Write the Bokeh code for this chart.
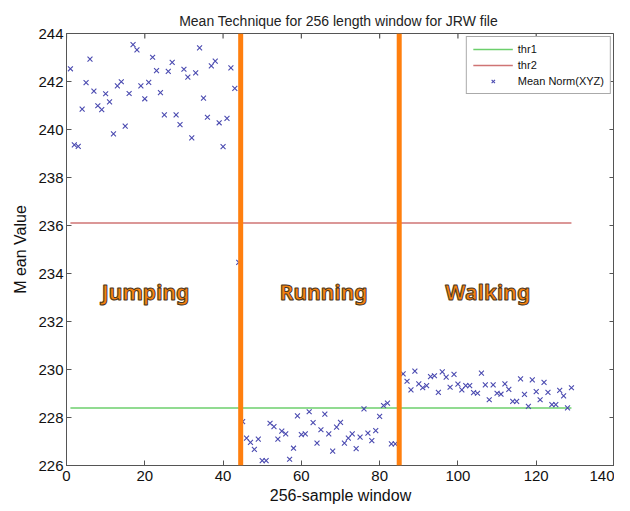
import math
from bokeh.plotting import figure
from bokeh.models import Span, Legend, LegendItem, FixedTicker, Range1d
from bokeh.core.properties import value
from bokeh.embed import file_html
from bokeh.resources import INLINE

# ---- data ----
jump_x = list(range(1, 45))
jump_y = [242.53, 239.36, 239.30, 240.85, 241.95, 242.93, 241.60, 240.99, 240.83, 241.49,
          241.15, 239.82, 241.82, 241.99, 240.14, 241.50, 243.54, 243.32, 241.82, 241.28,
          241.96, 243.01, 242.45, 241.54, 240.61, 242.42, 242.80, 240.61, 240.20, 242.51,
          242.18, 239.65, 242.36, 243.40, 241.31, 240.51, 242.65, 242.85, 240.28, 239.29,
          240.46, 242.57, 241.71, 234.46]
run_x = list(range(45, 85))
run_y = [227.83, 227.14, 226.96, 226.67, 227.10, 226.20, 226.20, 227.76, 227.62, 227.10,
         227.43, 227.32, 226.26, 226.72, 228.07, 227.29, 227.32, 228.24, 227.79, 226.93,
         227.49, 228.14, 227.32, 226.60, 227.60, 227.80, 226.93, 227.14, 227.32, 226.70,
         227.18, 228.36, 227.35, 227.04, 227.45, 228.05, 228.50, 228.60, 226.90, 226.90]
walk_x = list(range(86, 130))
walk_y = [229.82, 229.51, 229.15, 229.93, 229.40, 229.24, 229.33, 229.70, 229.74, 229.05,
          229.90, 229.68, 229.26, 229.80, 229.39, 229.15, 229.33, 229.33, 229.04, 229.01,
          229.85, 229.36, 228.74, 229.36, 229.01, 228.97, 229.40, 229.17, 228.67, 228.67,
          229.61, 228.96, 228.46, 229.57, 229.08, 228.74, 229.46, 229.05, 228.54, 228.54,
          229.13, 228.90, 228.40, 229.24]
thr1 = 228.4
thr2 = 236.1
thr_x = [1, 129]
boundaries = [44.5, 85.0]
activity_labels = ["Jumping", "Running", "Walking"]
activity_x = [20.2, 65.7, 107.6]
activity_y = [233.25, 233.25, 233.25]
x_range = (0, 140)
y_range = (226, 244)
x_ticks = [0, 20, 40, 60, 80, 100, 120, 140]
y_ticks = [226, 228, 230, 232, 234, 236, 238, 240, 242, 244]

all_x = jump_x + run_x + walk_x
all_y = jump_y + run_y + walk_y

FONT = "Liberation Sans"
AX = "#555555"

p = figure(frame_width=548, frame_height=432,
           min_border_left=66, min_border_right=0, min_border_top=33, min_border_bottom=40,
           x_range=Range1d(*x_range), y_range=Range1d(*y_range),
           output_backend="svg", toolbar_location=None,
           title="Mean Technique for 256  length window for JRW file")
p.title.align = "center"
p.title.text_font = FONT
p.title.text_font_size = "14px"
p.title.text_font_style = "normal"
p.title.text_color = "#222222"

p.grid.visible = False
p.outline_line_color = AX
p.outline_line_width = 1

for ax in (p.xaxis[0], p.yaxis[0]):
    ax.major_label_text_font = FONT
    ax.major_label_text_font_size = "15px"
    ax.major_label_text_color = "#111111"
    ax.axis_label_text_font = FONT
    ax.axis_label_text_font_size = "16px"
    ax.axis_label_text_font_style = "normal"
    ax.axis_label_text_color = "#111111"
    ax.axis_line_color = AX
    ax.major_tick_line_color = AX
    ax.major_tick_in = 5
    ax.major_tick_out = 0
    ax.minor_tick_line_color = None
p.xaxis[0].ticker = FixedTicker(ticks=x_ticks)
p.yaxis[0].ticker = FixedTicker(ticks=y_ticks)
p.xaxis[0].axis_label = "256-sample window"
p.yaxis[0].axis_label = "M ean Value"
p.xaxis[0].axis_label_standoff = 3
p.yaxis[0].axis_label_standoff = 6
p.xaxis[0].major_label_standoff = 5
p.yaxis[0].major_label_standoff = 3

# mirrored tick marks on top and right edges (half of each dash is clipped by the frame)
p.scatter(x_ticks, [y_range[1]] * len(x_ticks), marker="dash", angle=math.pi / 2,
          size=10, line_color=AX, line_width=1.2)
p.scatter([x_range[1]] * len(y_ticks), y_ticks, marker="dash",
          size=10, line_color=AX, line_width=1.2)

# threshold lines
l1 = p.line(thr_x, [thr1, thr1], line_color="#6ccf6c", line_width=1.5)
l2 = p.line(thr_x, [thr2, thr2], line_color="#cf7474", line_width=1.5)

# points
sc = p.scatter(all_x, all_y, marker="x", size=7, line_color="#4a4ab0", line_width=1.1)

# activity boundaries
for b in boundaries:
    p.add_layout(Span(location=b, dimension="height", line_color="#ff7f0e", line_width=5))

# activity labels
p.text(x=activity_x, y=activity_y, text=activity_labels,
       text_font=value("Noto Sans"), text_font_size="21px", text_font_style="bold",
       text_color="#f5820f", text_outline_color="#4a3520",
       text_align="center", text_baseline="middle")

legend = Legend(items=[LegendItem(label="thr1", renderers=[l1]),
                       LegendItem(label="thr2", renderers=[l2]),
                       LegendItem(label="Mean Norm(XYZ)", renderers=[sc])],
                location="top_right")
legend.label_text_font = FONT
legend.label_text_font_size = "11px"
legend.label_text_color = "#111111"
legend.glyph_width = 40
legend.glyph_height = 12
legend.label_height = 12
legend.spacing = 4
legend.padding = 6
legend.margin = 3
legend.border_line_color = AX
legend.background_fill_alpha = 1
p.add_layout(legend)

open("out.html", "w").write(file_html(p, INLINE))
